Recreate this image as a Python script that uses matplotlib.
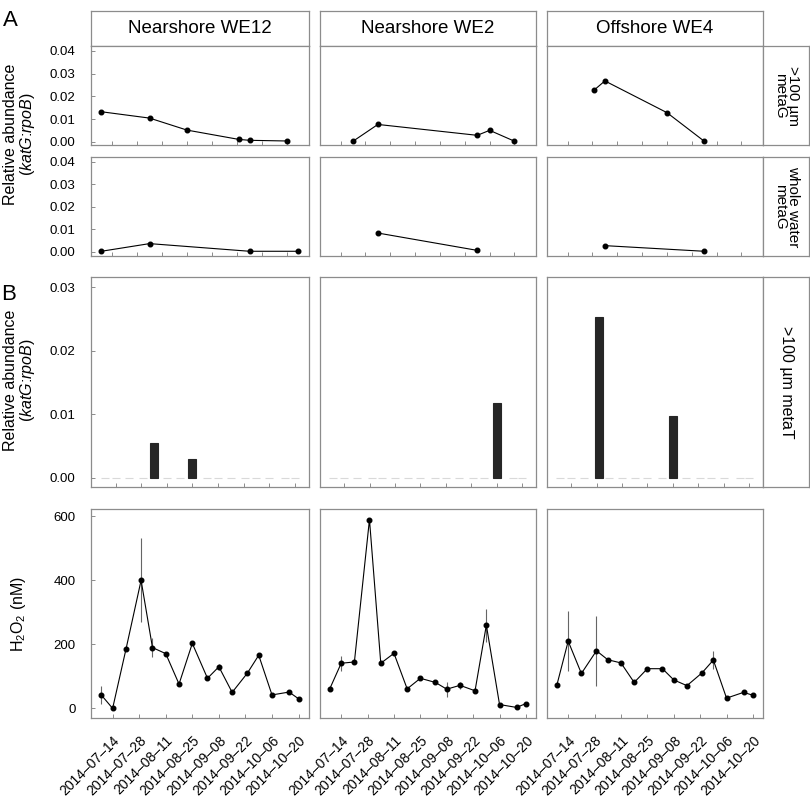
import numpy as np
import matplotlib
matplotlib.use("Agg")
import matplotlib.pyplot as plt
import matplotlib.dates as mdates

plt.rcParams['font.family'] = ['Liberation Sans', 'DejaVu Sans']
plt.rcParams['mathtext.fontset'] = 'custom'
plt.rcParams['mathtext.rm'] = 'Liberation Sans'
plt.rcParams['mathtext.it'] = 'Liberation Sans:italic'

sites = ["Nearshore WE12", "Nearshore WE2", "Offshore WE4"]
row_labels = [">100 µm\nmetaG", "whole water\nmetaG", ">100 µm metaT"]

# H2O2 sampling dates, shared by all three sites (also used for metaT bars)
h2o2_dates = ["2014-07-08", "2014-07-14", "2014-07-21", "2014-07-29",
              "2014-08-04", "2014-08-11", "2014-08-18", "2014-08-25",
              "2014-09-02", "2014-09-08", "2014-09-15", "2014-09-23",
              "2014-09-29", "2014-10-06", "2014-10-15", "2014-10-20"]

h2o2_we12 = [42, 0, 184, 400, 190, 171, 76, 203, 94, 130, 50, 110, 166, 42, 51, 30]
h2o2_we12_sd = [28, 0, 0, 131, 30, 0, 0, 0, 0, 10, 0, 0, 0, 0, 0, 0]
h2o2_we2 = [62, 141, 145, 590, 141, 172, 61, 94, 81, 60, 72, 55, 260, 12, 3, 15]
h2o2_we2_sd = [0, 23, 0, 0, 0, 0, 0, 0, 0, 23, 10, 0, 52, 0, 0, 0]
h2o2_we4 = [73, 210, 109, 180, 152, 142, 81, 124, 124, 89, 71, 111, 151, 32, 50, 41]
h2o2_we4_sd = [0, 94, 0, 109, 0, 0, 0, 0, 0, 0, 0, 0, 28, 0, 0, 0]

# katG:rpoB, >100 um metagenomes
mg100_we12_dates = ["2014-07-08", "2014-08-04", "2014-08-25", "2014-09-23", "2014-09-29", "2014-10-20"]
mg100_we12 = [0.0132, 0.0104, 0.0051, 0.0010, 0.0006, 0.0003]
mg100_we2_dates = ["2014-07-21", "2014-08-04", "2014-09-29", "2014-10-06", "2014-10-20"]
mg100_we2 = [0.0002, 0.0076, 0.0028, 0.0050, 0.0002]
mg100_we4_dates = ["2014-07-29", "2014-08-04", "2014-09-08", "2014-09-29"]
mg100_we4 = [0.0228, 0.0268, 0.0128, 0.0002]

# katG:rpoB, whole water metagenomes
mgww_we12_dates = ["2014-07-08", "2014-08-04", "2014-09-29", "2014-10-26"]
mgww_we12 = [0.0002, 0.0036, 0.0002, 0.0002]
mgww_we2_dates = ["2014-08-04", "2014-09-29"]
mgww_we2 = [0.0083, 0.0006]
mgww_we4_dates = ["2014-08-04", "2014-09-29"]
mgww_we4 = [0.0027, 0.0002]

# katG:rpoB, >100 um metatranscriptomes (one value per H2O2 date)
mt_we12 = [0, 0, 0, 0, 0.0055, 0, 0, 0.0029, 0, 0, 0, 0, 0, 0, 0, 0]
mt_we2 = [0, 0, 0, 0, 0, 0, 0, 0, 0, 0, 0, 0, 0, 0.0118, 0, 0]
mt_we4 = [0, 0, 0, 0.0253, 0, 0, 0, 0, 0, 0.0097, 0, 0, 0, 0, 0, 0]

mg100 = [(mg100_we12_dates, mg100_we12), (mg100_we2_dates, mg100_we2), (mg100_we4_dates, mg100_we4)]
mgww = [(mgww_we12_dates, mgww_we12), (mgww_we2_dates, mgww_we2), (mgww_we4_dates, mgww_we4)]
mt = [mt_we12, mt_we2, mt_we4]
h2o2 = [(h2o2_we12, h2o2_we12_sd), (h2o2_we2, h2o2_we2_sd), (h2o2_we4, h2o2_we4_sd)]


def dnum(dates):
    return mdates.date2num(np.array(dates, dtype="datetime64[D]"))


W, H = 810, 799
fig = plt.figure(figsize=(W / 100, H / 100), dpi=100)
GRID = "#8c8c8c"


def px_axes(x0, x1, y0, y1):
    return fig.add_axes([x0 / W, 1 - y1 / H, (x1 - x0) / W, (y1 - y0) / H])


def style(ax):
    for s in ax.spines.values():
        s.set_color(GRID)
        s.set_linewidth(0.9)
    ax.tick_params(direction="in", length=3, width=0.7, color=GRID,
                   labelsize=9.5, pad=11)


def strip(x0, x1, y0, y1, text, rot=0, size=11):
    ax = px_axes(x0, x1, y0, y1)
    ax.set_xticks([])
    ax.set_yticks([])
    for s in ax.spines.values():
        s.set_color(GRID)
        s.set_linewidth(0.9)
    ax.text(0.5, 0.5, text, rotation=rot, ha="center", va="center",
            fontsize=size, transform=ax.transAxes, linespacing=0.9)


cols = [(91, 309), (319.7, 536.3), (546.7, 763.3)]
rows = {"mg100": (46, 145.3), "mgww": (156.7, 256), "mt": (277.3, 486.7), "h2o2": (509.3, 718.3)}

base = mdates.date2num(np.datetime64("2014-07-14"))
ticks = dnum(["2014-07-14", "2014-07-28", "2014-08-11", "2014-08-25",
              "2014-09-08", "2014-09-22", "2014-10-06", "2014-10-20"])
tick_labels = ["2014–07–14", "2014–07–28", "2014–08–11", "2014–08–25",
               "2014–09–08", "2014–09–22", "2014–10–06", "2014–10–20"]
xlims = {"mg100": (-11.8, 110.3), "mgww": (-11.8, 110.3),
         "mt": (-13.6, 105.9), "h2o2": (-11.4, 103.5)}
ylims = {"mg100": (-0.0016, 0.0422), "mgww": (-0.0019, 0.0422),
         "mt": (-0.0014, 0.0316), "h2o2": (-31, 622)}
yticks = {"mg100": [0, 0.01, 0.02, 0.03, 0.04], "mgww": [0, 0.01, 0.02, 0.03, 0.04],
          "mt": [0, 0.01, 0.02, 0.03], "h2o2": [0, 200, 400, 600]}

hd = dnum(h2o2_dates)

for j, (cx0, cx1) in enumerate(cols):
    strip(cx0, cx1, 11, 46, sites[j], size=13.5)
    for key, (ry0, ry1) in rows.items():
        ax = px_axes(cx0, cx1, ry0, ry1)
        style(ax)
        if key == "mg100":
            d, v = mg100[j]
            ax.plot(dnum(d), v, "-o", color="black", lw=0.8, ms=3.3)
        elif key == "mgww":
            d, v = mgww[j]
            ax.plot(dnum(d), v, "-o", color="black", lw=0.8, ms=3.3)
        elif key == "mt":
            vals = mt[j]
            edges = ["#262626" if v > 0 else "#d9d9d9" for v in vals]
            ax.bar(hd, vals, width=4.4, color="#262626", edgecolor=edges, linewidth=0.8)
        else:
            v, sd = h2o2[j]
            v = np.array(v, dtype=float)
            sd = np.array(sd, dtype=float)
            ax.vlines(hd, v - sd, v + sd, color="#666666", lw=0.8)
            ax.plot(hd, v, "-o", color="black", lw=0.8, ms=3.3)
        lo, hi = xlims[key]
        ax.set_xlim(base + lo, base + hi)
        ax.set_ylim(*ylims[key])
        ax.set_xticks(ticks)
        ax.set_yticks(yticks[key])
        if key == "h2o2":
            ax.set_xticklabels(tick_labels, rotation=45, ha="right",
                               rotation_mode="anchor", fontsize=10)
        else:
            ax.set_xticklabels([])
        if j == 0:
            if key == "h2o2":
                ax.set_yticklabels(["0", "200", "400", "600"])
            else:
                ax.set_yticklabels(["%.2f" % t for t in yticks[key]])
        else:
            ax.tick_params(axis="y", left=False, labelleft=False)

strip(763.3, 809.3, 46, 145.3, row_labels[0], rot=-90)
strip(763.3, 809.3, 156.7, 256, row_labels[1], rot=-90)
strip(763.3, 809.3, 277.3, 486.7, row_labels[2], rot=-90, size=11.5)

ylab = "Relative abundance\n($\\it{katG}$:$\\it{rpoB}$)"
fig.text(20 / W, 1 - 134 / H, ylab, rotation=90, ha="center", va="center",
         fontsize=11.5, linespacing=1.0)
fig.text(20 / W, 1 - 380 / H, ylab, rotation=90, ha="center", va="center",
         fontsize=11.5, linespacing=1.0)
fig.text(18 / W, 1 - 614 / H, "H$_2$O$_2$ (nM)", rotation=90, ha="center",
         va="center", fontsize=11.5)
fig.text(10 / W, 1 - 20 / H, "A", ha="center", va="center", fontsize=16)
fig.text(9 / W, 1 - 295 / H, "B", ha="center", va="center", fontsize=16)

fig.savefig("out.png", dpi=100)
